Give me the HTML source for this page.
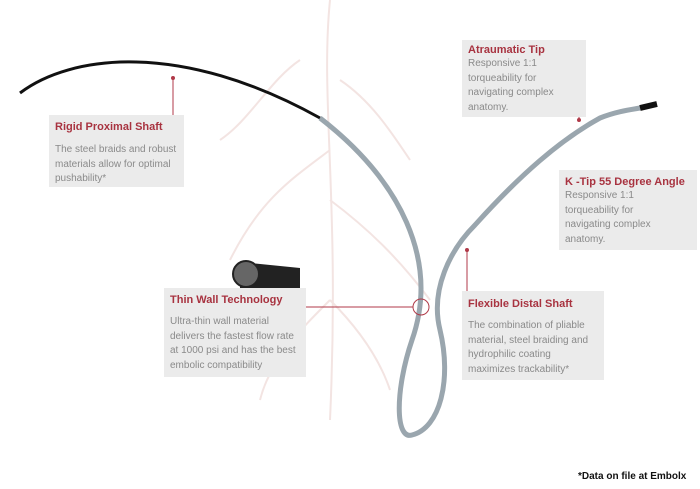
<!DOCTYPE html>
<html><head><style>
body{margin:0;width:700px;height:489px;background:#fff;position:relative;overflow:hidden;font-family:"Liberation Sans",sans-serif}
.box{position:absolute;background:#ebebeb;color:#8a8a8a;font-size:10px;line-height:14.5px;padding:0 6px}
.t{color:#a83340;font-weight:bold;font-size:11px;line-height:14px}
svg{position:absolute;left:0;top:0}
.foot{position:absolute;left:578px;top:471px;font-size:10px;font-weight:bold;color:#111}
</style></head><body>
<svg width="700" height="489">
<g stroke="#f3e4e2" stroke-width="2" fill="none">
<path d="M330 0 C320 100 340 200 330 420"/><path d="M330 150 C290 180 260 200 230 260"/><path d="M330 200 C370 230 400 260 430 300"/><path d="M300 60 C270 80 250 120 220 140"/><path d="M340 80 C370 100 390 130 410 160"/><path d="M330 300 C300 330 270 360 260 400"/><path d="M330 300 C360 330 380 360 390 390"/>
</g>
<path d="M20,93 C70,55 180,40 320,118" stroke="#111" stroke-width="3" fill="none"/>
<path d="M320,118 C400,180 440,260 412,340 C395,390 395,440 412,435 C440,428 452,380 440,330 C430,290 450,250 475,225 C520,175 560,140 600,118 C615,112 628,110 640,108" stroke="#9aa6ae" stroke-width="5" fill="none"/>
<path d="M640,108 L657,104" stroke="#111" stroke-width="6"/>
<path d="M660,245 C675,240 684,232 688,222" stroke="#9aa6ae" stroke-width="5" fill="none"/>
<path d="M684,232 C688,228 690,224 690,219" stroke="#111" stroke-width="5" fill="none"/>
<path d="M240,262 L300,268 L300,290 L240,290 Z" fill="#222"/>
<circle cx="246" cy="274" r="13" fill="#666" stroke="#222" stroke-width="2"/>
<g stroke="#b03a48" stroke-width="1" fill="none">
<path d="M173,78 V133 H55"/><circle cx="173" cy="78" r="1.5" fill="#b03a48"/>
<path d="M468,58 H579 V120"/><circle cx="579" cy="120" r="1.5" fill="#b03a48"/>
<path d="M565,189 H692"/>
<path d="M170,307 H413"/><circle cx="421" cy="307" r="8"/>
<path d="M467,250 V310 H573"/><circle cx="467" cy="250" r="1.5" fill="#b03a48"/>
</g>
</svg>
<div class="box" style="left:49px;top:115px;width:123px;height:72px"><div class="t" style="margin-top:5px">Rigid Proximal Shaft</div><div style="margin-top:9px">The steel braids and robust materials allow for optimal pushability*</div></div>
<div class="box" style="left:462px;top:40px;width:112px;height:77px"><div class="t" style="margin-top:3px">Atraumatic Tip</div>Responsive 1:1<br>torqueability for<br>navigating complex<br>anatomy.</div>
<div class="box" style="left:559px;top:170px;width:126px;height:80px"><div class="t" style="margin-top:5px">K -Tip 55 Degree Angle</div>Responsive 1:1<br>torqueability for<br>navigating complex<br>anatomy.</div>
<div class="box" style="left:164px;top:288px;width:130px;height:89px"><div class="t" style="margin-top:5px">Thin Wall Technology</div><div style="margin-top:8px">Ultra-thin wall material delivers the fastest flow rate at 1000 psi and has the best embolic compatibility</div></div>
<div class="box" style="left:462px;top:291px;width:130px;height:89px"><div class="t" style="margin-top:6px">Flexible Distal Shaft</div><div style="margin-top:8px">The combination of pliable material, steel braiding and hydrophilic coating maximizes trackability*</div></div>
<div class="foot">*Data on file at Embolx</div>
</body></html>
